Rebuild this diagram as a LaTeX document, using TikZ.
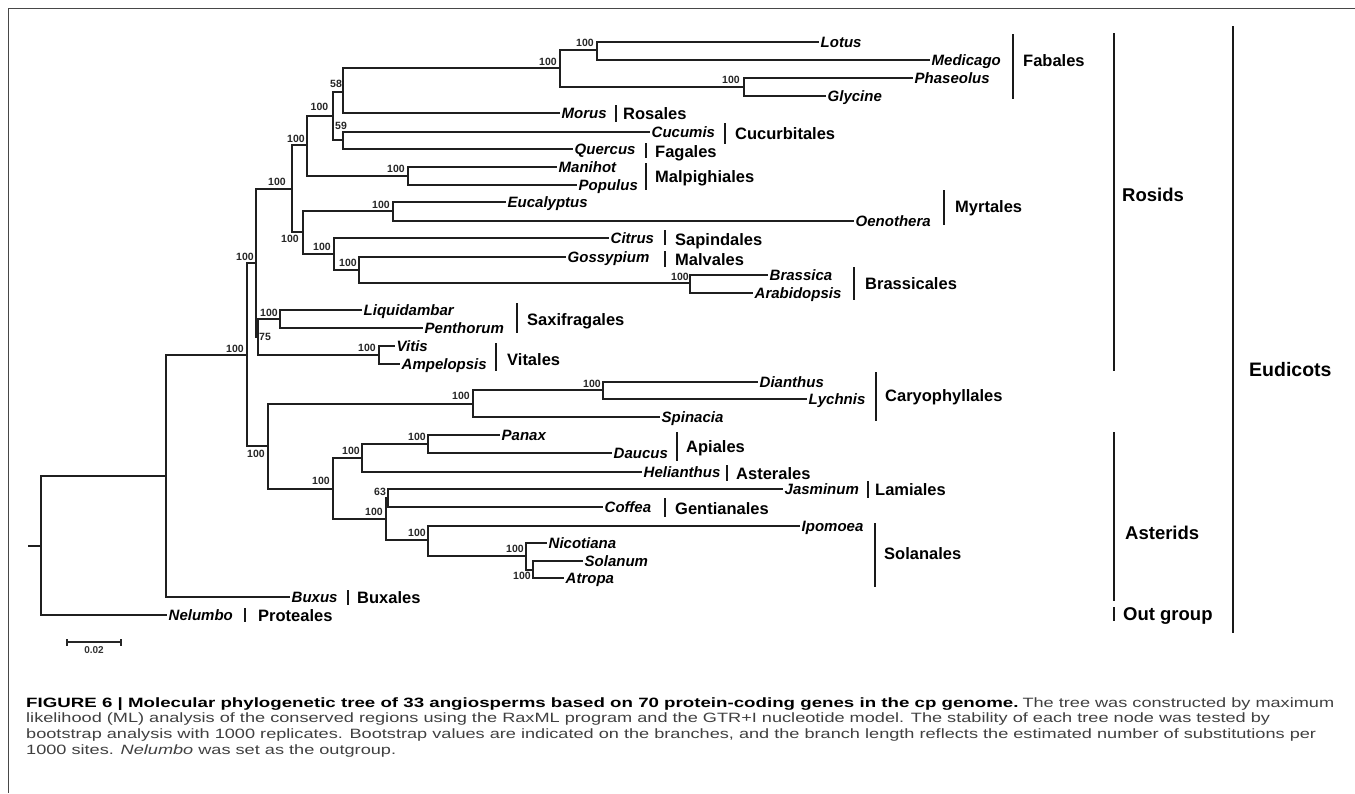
\documentclass[tikz,border=0pt]{standalone}
\usepackage{fontspec}
\usepackage{graphicx}
\setmainfont{Liberation Sans}
\newlength\lenC
\newlength\lenBold
\newlength\lenReg
\newcommand{\capBold}{FIGURE 6 | Molecular phylogenetic tree of 33 angiosperms based on 70 protein-coding genes in the cp genome.}
\newcommand{\capRegA}{The tree was constructed by maximum}
\newcommand{\capB}{likelihood (ML) analysis of the conserved regions using the RaxML program and the GTR+I nucleotide model. The stability of each tree node was tested by}
\newcommand{\capC}{bootstrap analysis with 1000 replicates. Bootstrap values are indicated on the branches, and the branch length reflects the estimated number of substitutions per}
\newcommand{\capD}{1000 sites. \textit{Nelumbo} was set as the outgroup.}
\newcommand{\capsize}{\fontsize{13.5}{15.7}\selectfont}
\begin{document}
\settowidth\lenC{\capsize\capC}
\settowidth\lenBold{\capsize\bfseries\capBold}
\settowidth\lenReg{\capsize\capRegA}
\pgfmathsetmacro\fr{1290/\lenC}
\pgfmathsetmacro\fb{(1308-4-\fr*\lenReg)/\lenBold}
\begin{tikzpicture}[x=1pt,y=-1pt,
  br/.style={line width=1.9pt, draw=black!88, line join=miter},
  bar/.style={line width=1.8pt, draw=black!90},
  taxon/.style={anchor=west, inner sep=0pt, inner xsep=1.5pt, font=\fontsize{15}{15}\selectfont\bfseries\itshape, text height=10pt, text depth=0pt},
  order/.style={anchor=west, inner sep=0pt, font=\fontsize{16.5}{16.5}\selectfont\bfseries, text height=12pt, text depth=0pt},
  clade/.style={anchor=west, inner sep=0pt, font=\fontsize{18.5}{18.5}\selectfont\bfseries, text height=13.5pt, text depth=0pt},
  bs/.style={inner sep=0pt, font=\fontsize{10.5}{10.5}\selectfont\bfseries, text=black!85},
  capline/.style={anchor=base west, inner sep=0pt, font=\capsize, text=black!75},
]
\fill[white] (0,0) rectangle (1355,793);
\useasboundingbox (0,0) rectangle (1355,793);
% frame
\draw[line width=1.4pt, black!72] (1355,8.5) -- (8.5,8.5) -- (8.5,793);

% internal nodes
\coordinate (stub) at (28,546);
\coordinate (root) at (41,546);
\coordinate (eud) at (166,476);
\coordinate (core) at (247,355);
\coordinate (ros) at (256,263);
\coordinate (nA) at (292,189);
\coordinate (nB) at (307,145);
\coordinate (nC) at (333,116);
\coordinate (nD) at (343,92);
\coordinate (fab) at (560,68);
\coordinate (nLM) at (597,50);
\coordinate (nPG) at (744,87);
\coordinate (n59) at (343,140);
\coordinate (malp) at (408,176);
\coordinate (nF) at (303,232);
\coordinate (myrt) at (393,211);
\coordinate (nG) at (334,254);
\coordinate (nH) at (359,270);
\coordinate (bras) at (690,283);
\coordinate (n75) at (258,337);
\coordinate (saxi) at (280,319);
\coordinate (vit) at (379,355);
\coordinate (nCA) at (268,446);
\coordinate (cary) at (473,404);
\coordinate (dian) at (603,390);
\coordinate (ast) at (333,489);
\coordinate (nAA) at (362,458);
\coordinate (api) at (428,444);
\coordinate (nLS) at (386,519);
\coordinate (n63) at (388,498);
\coordinate (sol) at (428,540);
\coordinate (nNS) at (526,556);
\coordinate (nSA) at (533,570);

% leaves
\node[taxon] (lotus) at (819,42) {Lotus};
\node[taxon] (medicago) at (930,60) {Medicago};
\node[taxon] (phaseolus) at (913,78) {Phaseolus};
\node[taxon] (glycine) at (826,96) {Glycine};
\node[taxon] (morus) at (560,113) {Morus};
\node[taxon] (cucumis) at (650,132) {Cucumis};
\node[taxon] (quercus) at (573,149) {Quercus};
\node[taxon] (manihot) at (557,167) {Manihot};
\node[taxon] (populus) at (577,185) {Populus};
\node[taxon] (eucalyptus) at (506,202) {Eucalyptus};
\node[taxon] (oenothera) at (854,221) {Oenothera};
\node[taxon] (citrus) at (609,238) {Citrus};
\node[taxon] (gossypium) at (566,257) {Gossypium};
\node[taxon] (brassica) at (768,275) {Brassica};
\node[taxon] (arabidopsis) at (753,293) {Arabidopsis};
\node[taxon] (liquidambar) at (362,310) {Liquidambar};
\node[taxon] (penthorum) at (423,328) {Penthorum};
\node[taxon] (vitis) at (395,346) {Vitis};
\node[taxon] (ampelopsis) at (400,364) {Ampelopsis};
\node[taxon] (dianthus) at (758,382) {Dianthus};
\node[taxon] (lychnis) at (807,399) {Lychnis};
\node[taxon] (spinacia) at (660,417) {Spinacia};
\node[taxon] (panax) at (500,435) {Panax};
\node[taxon] (daucus) at (612,453) {Daucus};
\node[taxon] (helianthus) at (642,472) {Helianthus};
\node[taxon] (jasminum) at (783,489) {Jasminum};
\node[taxon] (coffea) at (603,507) {Coffea};
\node[taxon] (ipomoea) at (800,526) {Ipomoea};
\node[taxon] (nicotiana) at (547,543) {Nicotiana};
\node[taxon] (solanum) at (583,561) {Solanum};
\node[taxon] (atropa) at (564,578) {Atropa};
\node[taxon] (buxus) at (290,597) {Buxus};
\node[taxon] (nelumbo) at (167,615) {Nelumbo};

% branches
\draw[br] (stub) -- (root);
\foreach \p/\c in {root/eud, eud/core, core/ros, core/nCA, ros/nA, ros/n75,
  nA/nB, nA/nF, nB/nC, nB/malp, nC/nD, nC/n59, nD/fab, fab/nLM, fab/nPG,
  nF/myrt, nF/nG, nG/nH, nH/bras, n75/saxi, n75/vit, nCA/cary, cary/dian,
  nCA/ast, ast/nAA, ast/nLS, nAA/api, nLS/n63, nLS/sol, sol/nNS, nNS/nSA}
  \draw[br] (\p) |- (\c);
\foreach \p/\c in {root/nelumbo, eud/buxus, nD/morus, nLM/lotus, nLM/medicago,
  nPG/phaseolus, nPG/glycine, n59/cucumis, n59/quercus, malp/manihot, malp/populus,
  myrt/eucalyptus, myrt/oenothera, nG/citrus, nH/gossypium, bras/brassica,
  bras/arabidopsis, saxi/liquidambar, saxi/penthorum, vit/vitis, vit/ampelopsis,
  dian/dianthus, dian/lychnis, cary/spinacia, api/panax, api/daucus, nAA/helianthus,
  n63/jasminum, n63/coffea, sol/ipomoea, nNS/nicotiana, nSA/solanum, nSA/atropa}
  \draw[br] (\p) |- (\c.west);

% bootstrap values
\node[bs] (bs1) at (336,84) {58};
\node[bs] (bs2) at (341,126) {59};
\node[bs] (bs3) at (319.5,107) {100};
\node[bs] (bs4) at (296,139) {100};
\node[bs] (bs5) at (277,182) {100};
\node[bs] (bs6) at (396,169) {100};
\node[bs] (bs7) at (381,205) {100};
\node[bs] (bs8) at (290,239) {100};
\node[bs] (bs9) at (322,247) {100};
\node[bs] (bs10) at (348,263) {100};
\node[bs] (bs11) at (245,257) {100};
\node[bs] (bs12) at (235,349) {100};
\node[bs] (bs13) at (269,313) {100};
\node[bs] (bs14) at (265,337) {75};
\node[bs] (bs15) at (367,348) {100};
\node[bs] (bs16) at (256,454) {100};
\node[bs] (bs17) at (321,481) {100};
\node[bs] (bs18) at (351,451) {100};
\node[bs] (bs19) at (417,437) {100};
\node[bs] (bs20) at (380,492) {63};
\node[bs] (bs21) at (374,512) {100};
\node[bs] (bs22) at (417,533) {100};
\node[bs] (bs23) at (461,396) {100};
\node[bs] (bs24) at (592,384) {100};
\node[bs] (bs25) at (515,549) {100};
\node[bs] (bs26) at (522,576) {100};
\node[bs] (bs27) at (548,62) {100};
\node[bs] (bs28) at (585,43) {100};
\node[bs] (bs29) at (731,80) {100};
\node[bs] (bs30) at (680,277) {100};

% order bars and names
\draw[bar] (1013,34) -- (1013,99);   \node[order] (fabales) at (1023,60) {Fabales};
\draw[bar] (616,105) -- (616,122);   \node[order] (rosales) at (623,113) {Rosales};
\draw[bar] (725,123) -- (725,144);   \node[order] (cucurbitales) at (735,133) {Cucurbitales};
\draw[bar] (646,143) -- (646,158);   \node[order] (fagales) at (655,151) {Fagales};
\draw[bar] (646,163) -- (646,190);   \node[order] (malpighiales) at (655,176) {Malpighiales};
\draw[bar] (944,190) -- (944,225);   \node[order] (myrtales) at (955,206) {Myrtales};
\draw[bar] (665,230) -- (665,245);   \node[order] (sapindales) at (675,239) {Sapindales};
\draw[bar] (665,251) -- (665,267);   \node[order] (malvales) at (675,259) {Malvales};
\draw[bar] (854,267) -- (854,300);   \node[order] (brassicales) at (865,283) {Brassicales};
\draw[bar] (517,303) -- (517,333);   \node[order] (saxifragales) at (527,319) {Saxifragales};
\draw[bar] (496,343) -- (496,371);   \node[order] (vitales) at (507,359) {Vitales};
\draw[bar] (876,372) -- (876,421);   \node[order] (caryophyllales) at (885,395) {Caryophyllales};
\draw[bar] (677,432) -- (677,461);   \node[order] (apiales) at (686,446) {Apiales};
\draw[bar] (727,465) -- (727,481);   \node[order] (asterales) at (736,473) {Asterales};
\draw[bar] (868,481) -- (868,498);   \node[order] (lamiales) at (875,489) {Lamiales};
\draw[bar] (665,498) -- (665,517);   \node[order] (gentianales) at (675,508) {Gentianales};
\draw[bar] (875,523) -- (875,587);   \node[order] (solanales) at (884,553) {Solanales};
\draw[bar] (348,590) -- (348,605);   \node[order] (buxales) at (357,597) {Buxales};
\draw[bar] (245,608) -- (245,622);   \node[order] (proteales) at (258,615) {Proteales};

% clade bars
\draw[bar] (1114,33) -- (1114,371);  \node[clade] (rosids) at (1122,195) {Rosids};
\draw[bar] (1114,432) -- (1114,601); \node[clade] (asterids) at (1125,533) {Asterids};
\draw[bar] (1114,607) -- (1114,621); \node[clade] (outgroup) at (1123,614) {Out group};
\draw[bar] (1233,26) -- (1233,633);  \node[clade, font=\fontsize{19.5}{19.5}\selectfont\bfseries] (eudicots) at (1249,370) {Eudicots};

% scale bar
\coordinate (sbL) at (67,642);
\coordinate (sbR) at (121,642);
\draw[line width=1.3pt, black!85] (sbL) -- (sbR);
\draw[line width=1.3pt, black!85] ([yshift=-3.5pt]sbL) -- ([yshift=3.5pt]sbL);
\draw[line width=1.3pt, black!85] ([yshift=-3.5pt]sbR) -- ([yshift=3.5pt]sbR);
\node[inner sep=0pt, font=\fontsize{10}{10}\selectfont\bfseries, text=black!80] (sblabel) at (94,650) {0.02};

% caption
\node[capline] (cap1) at (26,707) {\scalebox{\fb}[1]{\color{black}\bfseries\capBold}\hspace{4pt}\scalebox{\fr}[1]{\capRegA}};
\node[capline] (cap2) at (26,722.7) {\scalebox{\fr}[1]{\capB}};
\node[capline] (cap3) at (26,738.4) {\scalebox{\fr}[1]{\capC}};
\node[capline] (cap4) at (26,754) {\scalebox{\fr}[1]{\capD}};
\end{tikzpicture}
\end{document}
